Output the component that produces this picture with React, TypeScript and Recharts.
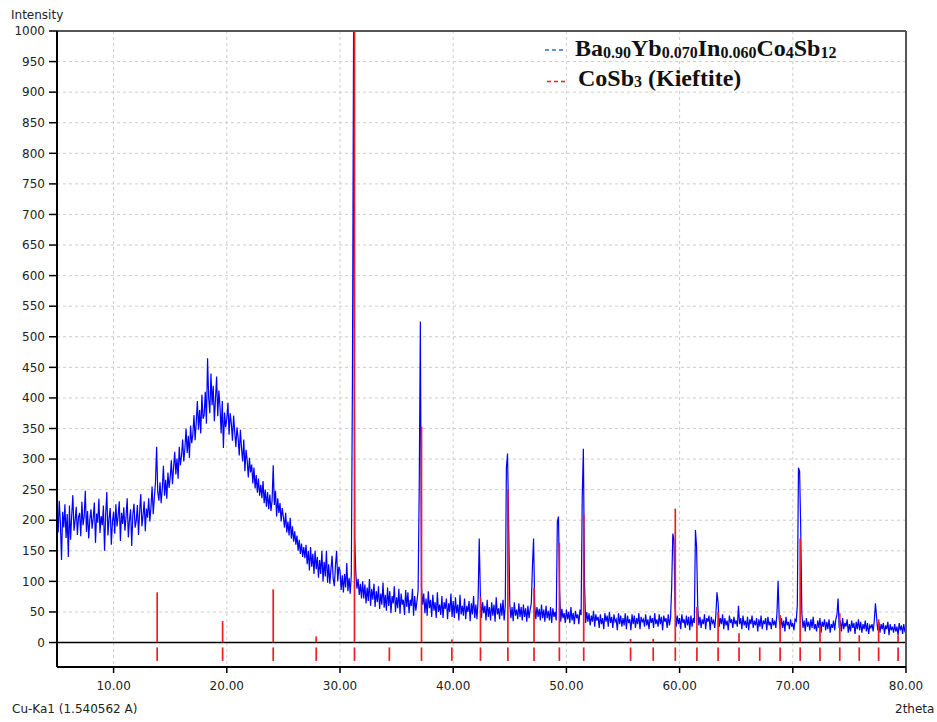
import React from 'react';
import { ComposedChart, Line, XAxis, YAxis, CartesianGrid, ReferenceLine } from 'recharts';

// measured pattern: 2theta from 5.00 to 80.00 in 0.10 steps
const START_ANGLE = 5;
const STEP = 0.1;
const intensity = [
  205,180,232,196,135,214,188,226,171,210,
  140,224,168,208,241,183,199,222,176,205,
  212,174,230,192,206,248,181,215,170,201,
  218,186,204,229,163,211,196,235,179,207,
  192,224,150,209,246,175,203,220,160,198,
  214,178,226,190,207,231,166,212,194,221,
  183,205,236,172,200,218,158,209,227,188,
  199,225,176,214,243,190,208,231,182,219,
  204,236,198,221,255,210,237,262,320,246,
  232,262,228,251,289,240,266,235,278,253,
  270,298,259,286,312,275,301,268,320,290,
  305,332,296,318,350,310,338,302,355,326,
  340,372,331,360,395,348,380,342,405,366,
  372,410,358,465,400,375,440,388,420,362,
  398,435,370,412,385,342,395,318,376,352,
  366,392,340,375,358,330,371,345,320,352,
  335,306,348,318,296,332,280,315,298,270,
  302,278,291,260,286,252,274,245,268,240,
  258,236,264,228,250,222,246,218,242,215,
  232,290,225,248,206,236,212,228,198,220,
  205,188,212,180,198,175,204,170,190,165,
  182,160,175,150,168,145,162,140,156,138,
  160,128,150,118,156,124,145,112,150,120,
  140,106,135,112,150,100,132,108,150,98,
  128,96,120,142,104,92,126,150,100,124,
  118,86,110,82,112,90,130,84,106,80,
  112,435,1000,171,112,88,104,78,96,72,
  100,72,95,64,90,68,104,60,88,70,
  96,58,84,66,92,55,80,62,98,57,
  78,52,90,60,84,48,76,64,92,50,
  74,56,88,47,80,62,70,45,86,58,
  82,48,70,60,88,44,76,52,68,85,
  255,525,90,62,80,48,72,44,84,56,
  70,42,78,52,66,40,82,50,62,45,
  76,40,66,55,72,38,64,50,80,42,
  68,40,74,48,62,36,78,46,60,44,
  72,38,60,50,68,35,64,46,76,40,
  62,38,70,170,78,40,66,48,60,36,
  70,42,58,36,66,44,62,34,74,46,
  56,38,64,44,70,36,60,286,309,194,
  62,40,58,35,66,44,54,38,64,42,
  58,36,62,42,56,34,60,40,54,64,
  125,170,62,38,58,42,55,36,62,40,
  54,34,60,40,52,36,58,32,56,42,
  50,36,197,206,85,34,55,40,48,32,
  54,38,50,32,58,36,48,30,52,40,
  46,30,54,45,239,317,98,32,50,34,
  48,28,44,34,52,26,46,36,42,24,
  46,30,40,22,48,34,44,26,50,32,
  42,24,46,34,38,20,48,30,44,26,
  40,28,48,22,44,32,38,20,46,30,
  44,24,40,30,48,22,42,34,38,26,
  46,28,38,22,44,32,40,24,48,30,
  38,26,46,30,42,20,44,34,40,24,
  46,28,40,90,178,167,60,26,44,30,
  40,22,46,32,38,24,44,28,42,20,
  44,26,40,32,184,157,60,28,42,24,
  38,30,46,22,40,34,44,20,42,32,
  36,24,44,82,66,26,40,30,46,22,
  40,28,36,20,44,32,38,24,42,30,
  36,26,60,30,40,22,44,28,36,24,
  42,20,38,30,44,24,36,28,40,18,
  38,26,44,22,36,30,40,20,42,28,
  34,22,40,28,36,24,48,101,38,22,
  40,24,36,18,42,28,34,22,38,26,
  32,20,38,35,60,286,280,186,48,24,
  36,18,40,26,34,20,38,24,42,22,
  30,18,36,24,40,16,34,26,38,20,
  34,22,38,16,30,24,36,20,38,45,
  72,24,36,18,40,22,32,26,38,16,
  30,18,36,24,32,14,34,22,38,20,
  34,16,30,22,36,18,32,14,28,24,
  30,18,36,64,42,20,34,16,30,22,
  32,14,28,22,34,12,30,20,26,16,
  30,18,26,12,32,20,28,14,30,18,
  20,
];

// CoSb3 (Kieftite) reference pattern
const refAngles = [13.85, 19.63, 24.1, 27.9, 31.28, 34.36, 37.2, 39.88, 42.41, 44.83, 47.14, 49.38, 51.53, 55.67, 57.67, 59.62, 61.53, 63.4, 65.25, 67.08, 68.88, 70.65, 72.4, 74.15, 75.87, 77.58, 79.3];
const refIntensity = [82, 35, 87, 10, 1000, 0, 353, 5, 75, 250, 90, 163, 209, 6, 6, 219, 58, 50, 15, 0, 45, 170, 28, 48, 12, 38, 12];
const REF_TICK_TOP = -8;
const REF_TICK_BOTTOM = -30;

const xTicks = [10, 20, 30, 40, 50, 60, 70, 80];
const yTicks = [0, 50, 100, 150, 200, 250, 300, 350, 400, 450, 500, 550, 600, 650, 700, 750, 800, 850, 900, 950, 1000];

const data = intensity.map((v, i) => ({ x: Number((START_ANGLE + i * STEP).toFixed(1)), y: v }));

const tickFont = { fill: '#222', fontSize: 12, fontFamily: 'DejaVu Sans' };
const RED = '#ee1c25';
const BLUE_DASH = '#2f6fc0';

export default function App() {
  return (
    <div style={{ position: 'absolute', left: 0, top: 0, width: 937, height: 722, background: '#fff' }}>
      <ComposedChart width={937} height={722} data={data} margin={{ top: 31, right: 31, bottom: 0, left: 0 }}>
        <CartesianGrid stroke="#cccccc" strokeDasharray="3 3" />
        <XAxis
          type="number"
          dataKey="x"
          domain={[5, 80]}
          ticks={xTicks}
          allowDataOverflow
          tickFormatter={(v: number) => v.toFixed(2)}
          height={55}
          tickSize={6}
          tickMargin={8}
          tick={tickFont}
          axisLine={{ stroke: '#000', strokeWidth: 2 }}
          tickLine={{ stroke: '#000', strokeWidth: 1.5 }}
        />
        <YAxis
          type="number"
          domain={[-40, 1000]}
          ticks={yTicks}
          allowDataOverflow
          width={57}
          tickSize={8}
          tickMargin={4}
          tick={tickFont}
          axisLine={{ stroke: '#000', strokeWidth: 2 }}
          tickLine={{ stroke: '#000', strokeWidth: 1.5 }}
        />
        <ReferenceLine y={0} stroke="#000" strokeWidth={1.5} />
        <Line
          type="linear"
          dataKey="y"
          stroke="#0000ff"
          strokeWidth={1.2}
          dot={false}
          isAnimationActive={false}
        />
        {refAngles.map((a, i) =>
          refIntensity[i] > 0 ? (
            <ReferenceLine
              key={'u' + i}
              segment={[{ x: a, y: 0 }, { x: a, y: refIntensity[i] }]}
              stroke={RED}
              strokeWidth={1.7}
            />
          ) : null
        )}
        {refAngles.map((a, i) => (
          <ReferenceLine
            key={'d' + i}
            segment={[{ x: a, y: REF_TICK_TOP }, { x: a, y: REF_TICK_BOTTOM }]}
            stroke={RED}
            strokeWidth={1.7}
          />
        ))}
        <ReferenceLine y={1000} stroke="#555" strokeWidth={2} />
        <ReferenceLine x={80} stroke="#555" strokeWidth={2} />
      </ComposedChart>
      <svg width={937} height={722} style={{ position: 'absolute', left: 0, top: 0, pointerEvents: 'none' }}>
        <g fontFamily="DejaVu Sans" fontSize={12} fill="#222">
          <text x={11} y={19}>Intensity</text>
          <text x={12} y={713}>Cu-Ka1 (1.540562 A)</text>
          <text x={895} y={713}>2theta</text>
        </g>
        <line x1={545} y1={50} x2={564} y2={50} stroke={BLUE_DASH} strokeWidth={1.5} strokeDasharray="4 3" />
        <line x1={547} y1={81.5} x2={566} y2={81.5} stroke={RED} strokeWidth={1.5} strokeDasharray="4 3" />
        <g fontFamily="Liberation Serif">
          <text x={575} y={56} fontSize={24} fontWeight="bold" fill="#111">
            Ba<tspan fontSize={16} dy={1.5}>0.90</tspan>
            <tspan dy={-1.5}>Yb</tspan><tspan fontSize={16} dy={1.5}>0.070</tspan>
            <tspan dy={-1.5}>In</tspan><tspan fontSize={16} dy={1.5}>0.060</tspan>
            <tspan dy={-1.5}>Co</tspan><tspan fontSize={16} dy={1.5}>4</tspan>
            <tspan dy={-1.5}>Sb</tspan><tspan fontSize={16} dy={1.5}>12</tspan>
          </text>
          <text x={578} y={86} fontSize={24} fontWeight="bold" fill="#111">
            CoSb<tspan fontSize={16} dy={1.3}>3</tspan>
            <tspan dy={-1.3}> (Kieftite)</tspan>
          </text>
        </g>
      </svg>
    </div>
  );
}
